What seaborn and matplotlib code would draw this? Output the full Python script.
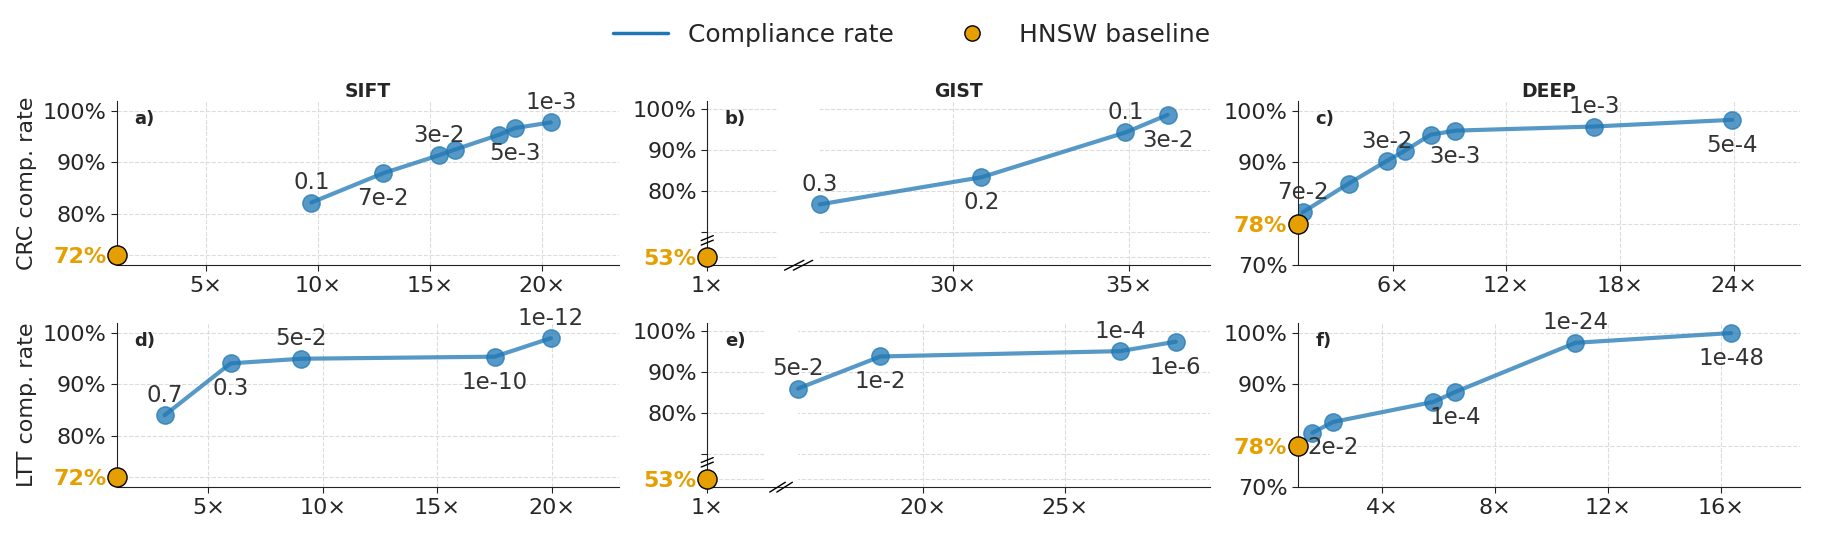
import matplotlib
matplotlib.use("Agg")
from matplotlib import pyplot as plt
from matplotlib.lines import Line2D
import seaborn as sns

# speed-up over HNSW (x) and compliance rate (%) for each panel
sift_crc_x = [9.7, 12.9, 15.4, 16.1, 18.1, 18.8, 20.4]
sift_crc_y = [82.2, 87.9, 91.4, 92.5, 95.4, 96.7, 97.8]
sift_crc_lab = ["0.1", "7e-2", "3e-2", "", "", "5e-3", "1e-3"]

gist_crc_x = [26.2, 30.8, 34.9, 36.1]
gist_crc_y = [76.8, 83.4, 94.3, 98.6]
gist_crc_lab = ["0.3", "0.2", "0.1", "3e-2"]

deep_crc_x = [1.26, 3.68, 5.69, 6.65, 8.0, 9.31, 16.6, 23.9]
deep_crc_y = [80.3, 85.9, 90.3, 92.3, 95.4, 96.2, 97.0, 98.3]
deep_crc_lab = ["7e-2", "", "3e-2", "", "", "3e-3", "1e-3", "5e-4"]

sift_ltt_x = [3.09, 5.97, 9.06, 17.5, 19.95]
sift_ltt_y = [84.0, 94.1, 95.0, 95.4, 99.0]
sift_ltt_lab = ["0.7", "0.3", "5e-2", "1e-10", "1e-12"]

gist_ltt_x = [15.6, 18.5, 26.95, 28.9]
gist_ltt_y = [86.0, 93.8, 95.1, 97.4]
gist_ltt_lab = ["5e-2", "1e-2", "1e-4", "1e-6"]

deep_ltt_x = [1.52, 2.26, 5.81, 6.57, 10.84, 16.36]
deep_ltt_y = [80.6, 82.7, 86.6, 88.5, 98.1, 100.0]
deep_ltt_lab = ["", "2e-2", "", "1e-4", "1e-24", "1e-48"]

# HNSW baseline compliance per dataset (speed-up 1x)
baseline = {"SIFT": 72, "GIST": 53, "DEEP": 78}

xticks = {
    "a": [5, 10, 15, 20], "b": [1, 30, 35], "c": [6, 12, 18, 24],
    "d": [5, 10, 15, 20], "e": [1, 20, 25], "f": [4, 8, 12, 16],
}

# label placement (1 above the point, -1 below)
lab_side = {
    "a": [1, -1, 1, 0, 0, -1, 1], "b": [1, -1, 1, -1],
    "c": [1, 0, 1, 0, 0, -1, 1, -1], "d": [1, -1, 1, -1, 1],
    "e": [1, -1, 1, -1], "f": [0, -1, 0, -1, 1, -1],
}

BLUE = "#1f77b4"
ORANGE = "#E69F00"

sns.set_style("ticks", {"axes.grid": True, "grid.linestyle": "--",
                        "grid.color": "#dcdcdc", "axes.edgecolor": "#222222"})
plt.rcParams["font.family"] = ["DejaVu Sans"]

fig, axes = plt.subplots(2, 3, figsize=(18.24, 5.48), dpi=100)
fig.subplots_adjust(left=0.064, right=0.987, bottom=0.111, top=0.816,
                    wspace=0.175, hspace=0.35)

panels = [
    ("a", "SIFT", sift_crc_x, sift_crc_y, sift_crc_lab),
    ("b", "GIST", gist_crc_x, gist_crc_y, gist_crc_lab),
    ("c", "DEEP", deep_crc_x, deep_crc_y, deep_crc_lab),
    ("d", "SIFT", sift_ltt_x, sift_ltt_y, sift_ltt_lab),
    ("e", "GIST", gist_ltt_x, gist_ltt_y, gist_ltt_lab),
    ("f", "DEEP", deep_ltt_x, deep_ltt_y, deep_ltt_lab),
]

# GIST panels use a broken x axis (shift) and broken y axis
x_shift = {"b": 22.0, "e": 11.4}
gist_base_pos = 64

for ax, (key, name, xs, ys, labs) in zip(axes.flat, panels):
    shift = x_shift.get(key, 0.0)
    xd = [v - shift for v in xs]
    base = baseline[name]
    base_y = gist_base_pos if name == "GIST" else base

    sns.lineplot(x=xd, y=ys, ax=ax, color=BLUE, alpha=0.75, lw=3,
                 marker="o", markersize=12.5, markeredgecolor=BLUE,
                 markeredgewidth=1, sort=False, estimator=None)
    sns.scatterplot(x=[1], y=[base_y], ax=ax, s=190, color=ORANGE,
                    edgecolor="black", linewidth=1, zorder=6, clip_on=False)

    for x, y, t, s in zip(xd, ys, labs, lab_side[key]):
        if not t:
            continue
        ax.annotate(t, (x, y), xytext=(0, 6 if s > 0 else -10),
                    textcoords="offset points", ha="center",
                    va="bottom" if s > 0 else "top", fontsize=16.5,
                    color="#333333")

    # axes ranges and ticks
    if name == "GIST":
        ax.set_xlim(1, max(xd) + 1.2)
    else:
        ax.set_xlim(1, max(xd) * 1.15)
    ticks = [t if t == 1 else t - shift for t in xticks[key]]
    ax.set_xticks(ticks)
    ax.set_xticklabels([f"{t}\u00d7" for t in xticks[key]], fontsize=16)

    if name == "GIST":
        ax.set_ylim(62, 102)
        yt = [gist_base_pos, 70, 80, 90, 100]
        ylab = [f"{base}%", "", "80%", "90%", "100%"]
    elif name == "SIFT":
        ax.set_ylim(70, 102)
        yt = [base, 80, 90, 100]
        ylab = [f"{base}%", "80%", "90%", "100%"]
    else:
        ax.set_ylim(70, 102)
        yt = [70, base, 90, 100]
        ylab = ["70%", f"{base}%", "90%", "100%"]
    ax.set_yticks(yt)
    ax.set_yticklabels(ylab, fontsize=16)
    for tl in ax.get_yticklabels():
        if tl.get_text() == f"{base}%":
            tl.set_color(ORANGE)
            tl.set_fontweight("bold")

    if name == "GIST":
        # gap in the grid at the x break, plus break marks
        ax.axvspan(3.0, 4.2, color="white", zorder=0.8, lw=0)
        ytr = ax.get_yaxis_transform()
        for dy in (0, 1.1):
            ax.plot([-0.012, 0.012], [66.9 + dy, 68.1 + dy], transform=ytr,
                    color="black", lw=1, clip_on=False, zorder=7)
        xtr = ax.get_xaxis_transform()
        for dx in (0, 0.25):
            ax.plot([3.2 + dx, 3.75 + dx], [-0.03, 0.03], transform=xtr,
                    color="black", lw=1, clip_on=False, zorder=7)

    ax.text(0.035, 0.89, f"{key})", transform=ax.transAxes,
            fontsize=13, fontweight="bold", va="center")
    ax.set_xlabel("")
    ax.set_ylabel("")
    ax.tick_params(length=4, color="#222222")
    sns.despine(ax=ax)

for ax, name in zip(axes[0], ["SIFT", "GIST", "DEEP"]):
    ax.set_title(name, fontsize=13.5, fontweight="bold", pad=3)
axes[0, 0].set_ylabel("CRC comp. rate", fontsize=16)
axes[1, 0].set_ylabel("LTT comp. rate", fontsize=16)

handles = [
    Line2D([0], [0], color=BLUE, lw=2.5),
    Line2D([0], [0], marker="o", color="none", markerfacecolor=ORANGE,
           markeredgecolor="black", markersize=11),
]
fig.legend(handles, ["Compliance rate", "HNSW baseline"], loc="center",
           bbox_to_anchor=(0.5, 0.937), ncol=2, frameon=False, fontsize=18,
           columnspacing=2.0, handlelength=2.2)

plt.savefig("out.png", dpi=100)
